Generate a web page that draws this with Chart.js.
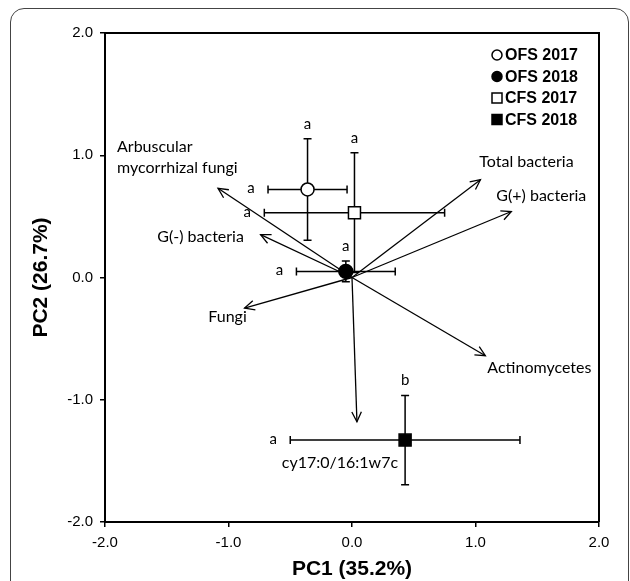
<!DOCTYPE html>
<html>
<head>
<meta charset="utf-8">
<script src="https://cdn.jsdelivr.net/npm/chart.js@4.4.0/dist/chart.umd.min.js"></script>
<style>
  html, body { margin: 0; padding: 0; background: #fff; overflow: hidden; }
  #wrap { position: relative; width: 630px; height: 581px; }
  #frame { position: absolute; left: 10px; top: 8px; width: 617px; height: 640px;
           border: 1px solid #444; border-radius: 14px; }
  canvas { position: absolute; left: 0; top: 0; }
</style>
</head>
<body>
<div id="wrap">
  <div id="frame"></div>
  <canvas id="pcaChart" width="630" height="581"></canvas>
</div>
<script>
// Group scores (PC1, PC2) with standard errors and letters
var groups = ["OFS 2017", "OFS 2018", "CFS 2017", "CFS 2018"];
var pc1 = [-0.36, -0.05, 0.02, 0.43];
var pc2 = [0.72, 0.05, 0.53, -1.33];
var errX = [0.32, 0.40, 0.73, 0.93];
var errY = [0.415, 0.085, 0.49, 0.365];
var lettersX = ["a", "a", "a", "a"];
var lettersY = ["a", "a", "a", "b"];

// Loadings (arrows)
var loadNames = [
  ["Arbuscular", "mycorrhizal fungi"],
  ["G(-) bacteria"],
  ["Fungi"],
  ["Total bacteria"],
  ["G(+) bacteria"],
  ["Actinomycetes"],
  ["cy17:0/16:1w7c"],
];
var loadX = [-1.085, -0.74, -0.87, 1.04, 1.29, 1.08, 0.04];
var loadY = [0.73, 0.35, -0.25, 0.80, 0.54, -0.64, -1.18];

var axisTicks = [-2, -1, 0, 1, 2];

// marker look per group
var markerStyle = ["circle", "circle", "rect", "rect"];
var markerFill = ["#fff", "#000", "#fff", "#000"];
var markerRadius = [6.5, 7, 8.5, 8.5];

// label placement next to arrow tips (pixels): dx, dy, align
var labelPos = [
  [-101, -41, "left"],
  [-60, 2, "center"],
  [-17, 9, "center"],
  [46, -18, "center"],
  [30, -16, "center"],
  [54, 12, "center"],
  [-17, 41, "center"],
];

var labelFont = "16px Lato";

var biplotDecor = {
  id: "biplotDecor",
  beforeDatasetsDraw: function (chart) {
    var ctx = chart.ctx;
    var x = chart.scales.x, y = chart.scales.y;
    ctx.save();
    ctx.strokeStyle = "#000";
    ctx.fillStyle = "#000";

    // arrows
    var x0 = x.getPixelForValue(0), y0 = y.getPixelForValue(0);
    ctx.lineWidth = 1.3;
    ctx.font = labelFont;
    ctx.textBaseline = "middle";
    for (var i = 0; i < loadX.length; i++) {
      var tx = x.getPixelForValue(loadX[i]);
      var ty = y.getPixelForValue(loadY[i]);
      ctx.beginPath();
      ctx.moveTo(x0, y0);
      ctx.lineTo(tx, ty);
      ctx.stroke();
      var ang = Math.atan2(ty - y0, tx - x0);
      var h = 11;
      ctx.beginPath();
      ctx.moveTo(tx - h * Math.cos(ang - 0.45), ty - h * Math.sin(ang - 0.45));
      ctx.lineTo(tx, ty);
      ctx.lineTo(tx - h * Math.cos(ang + 0.45), ty - h * Math.sin(ang + 0.45));
      ctx.stroke();

      var lp = labelPos[i];
      ctx.textAlign = lp[2];
      for (var k = 0; k < loadNames[i].length; k++) {
        ctx.fillText(loadNames[i][k], tx + lp[0], ty + lp[1] + k * 21);
      }
    }

    // error bars
    ctx.lineWidth = 1.5;
    var cap = 4;
    for (var g = 0; g < groups.length; g++) {
      var cx = x.getPixelForValue(pc1[g]);
      var cy = y.getPixelForValue(pc2[g]);
      var xl = x.getPixelForValue(pc1[g] - errX[g]);
      var xr = x.getPixelForValue(pc1[g] + errX[g]);
      var yt = y.getPixelForValue(pc2[g] + errY[g]);
      var yb = y.getPixelForValue(pc2[g] - errY[g]);
      ctx.beginPath();
      ctx.moveTo(xl, cy); ctx.lineTo(xr, cy);
      ctx.moveTo(xl, cy - cap); ctx.lineTo(xl, cy + cap);
      ctx.moveTo(xr, cy - cap); ctx.lineTo(xr, cy + cap);
      ctx.moveTo(cx, yt); ctx.lineTo(cx, yb);
      ctx.moveTo(cx - cap, yt); ctx.lineTo(cx + cap, yt);
      ctx.moveTo(cx - cap, yb); ctx.lineTo(cx + cap, yb);
      ctx.stroke();
    }
    ctx.restore();
  },
  afterDatasetsDraw: function (chart) {
    var ctx = chart.ctx;
    var x = chart.scales.x, y = chart.scales.y;
    var area = chart.chartArea;
    ctx.save();
    ctx.fillStyle = "#000";
    ctx.strokeStyle = "#000";

    // significance letters
    ctx.font = "15px Lato";
    ctx.textAlign = "center";
    ctx.textBaseline = "middle";
    for (var g = 0; g < groups.length; g++) {
      var cx = x.getPixelForValue(pc1[g]);
      var cy = y.getPixelForValue(pc2[g]);
      var xl = x.getPixelForValue(pc1[g] - errX[g]);
      var yt = y.getPixelForValue(pc2[g] + errY[g]);
      ctx.fillText(lettersY[g], cx, yt - 15);
      ctx.fillText(lettersX[g], xl - 17, cy - 1);
    }

    // top and right frame
    ctx.lineWidth = 2;
    ctx.beginPath();
    ctx.moveTo(area.left, area.top);
    ctx.lineTo(area.right, area.top);
    ctx.lineTo(area.right, area.bottom);
    ctx.stroke();

    // legend
    ctx.font = "bold 16px 'Liberation Sans'";
    ctx.textAlign = "left";
    var mx = area.right - 102, ly = area.top + 22;
    for (var i = 0; i < groups.length; i++) {
      var yy = ly + i * 21.5;
      ctx.lineWidth = 1.5;
      ctx.beginPath();
      if (markerStyle[i] === "circle") {
        ctx.arc(mx, yy, 5, 0, Math.PI * 2);
      } else {
        ctx.rect(mx - 5, yy - 5, 10, 10);
      }
      ctx.fillStyle = markerFill[i];
      ctx.fill();
      ctx.stroke();
      ctx.fillStyle = "#000";
      ctx.fillText(groups[i], mx + 8, yy + 1);
    }

    // axis titles
    ctx.font = "bold 21px 'Liberation Sans'";
    ctx.textAlign = "center";
    ctx.fillText("PC1 (35.2%)", (area.left + area.right) / 2, 569);
    ctx.translate(41, (area.top + area.bottom) / 2);
    ctx.rotate(-Math.PI / 2);
    ctx.fillText("PC2 (26.7%)", 0, 0);
    ctx.restore();
  },
};

var datasets = groups.map(function (name, i) {
  return {
    label: name,
    data: [{ x: pc1[i], y: pc2[i] }],
    pointStyle: markerStyle[i],
    pointRadius: markerRadius[i],
    pointHoverRadius: markerRadius[i],
    backgroundColor: markerFill[i],
    borderColor: "#000",
    borderWidth: 1.5,
  };
});

function axisOptions(fitKey, fitSize, pad) {
  return {
    type: "linear",
    min: -2,
    max: 2,
    afterBuildTicks: function (scale) {
      scale.ticks = axisTicks.map(function (v) { return { value: v }; });
    },
    afterFit: function (scale) { scale[fitKey] = fitSize; },
    ticks: {
      color: "#000",
      padding: pad,
      font: { family: "'Liberation Sans'", size: 15 },
      callback: function (v) { return Number(v).toFixed(1); },
    },
    grid: {
      drawOnChartArea: false,
      drawTicks: true,
      tickLength: 5,
      tickColor: "#000",
      lineWidth: 1.5,
    },
    border: { display: true, color: "#000", width: 2 },
  };
}

var ctx = document.getElementById("pcaChart").getContext("2d");
var pcaChart = new Chart(ctx, {
  type: "scatter",
  data: { datasets: datasets },
  options: {
    responsive: false,
    animation: false,
    devicePixelRatio: 1,
    layout: { padding: { left: 0, top: 33, right: 31, bottom: 0 } },
    plugins: { legend: { display: false }, tooltip: { enabled: false } },
    scales: {
      x: axisOptions("height", 59, 7),
      y: axisOptions("width", 105, 7),
    },
  },
  plugins: [biplotDecor],
});
</script>
</body>
</html>
